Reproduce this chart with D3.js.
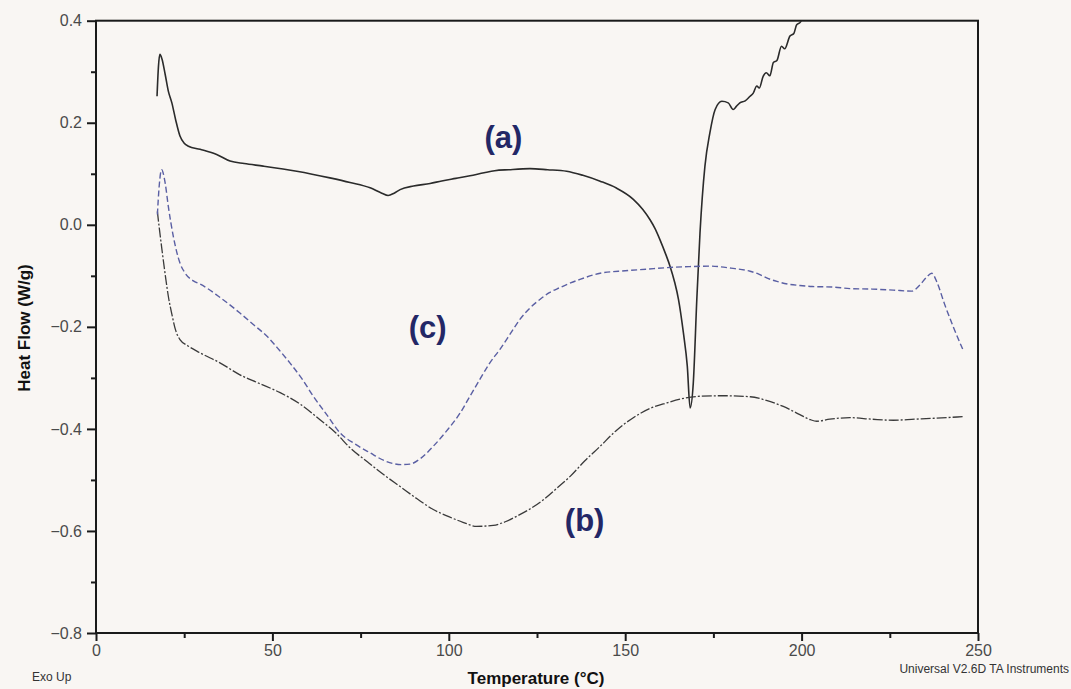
<!DOCTYPE html>
<html>
<head>
<meta charset="utf-8">
<script src="https://cdn.jsdelivr.net/npm/d3@7/dist/d3.min.js"></script>
<style>
  html, body { margin: 0; padding: 0; background: #f9f6f3; }
  svg { display: block; font-family: Arial, "Liberation Sans", sans-serif; }
</style>
</head>
<body>
<svg id="chart" width="1071" height="689"></svg>
<script>
// DSC thermograms: temperature (°C) vs heat flow (W/g)
const tempA = [17.3, 17.7, 18.1, 18.7, 19.6, 20.5, 21.5, 22.6, 23.8, 25.0, 26.2, 29.5, 34.2, 38.0, 42.0, 47.4, 56.9, 66.3, 72.0, 77.7, 81.0, 82.8, 84.5, 86.2, 90.0, 94.7, 98.0, 102.0, 106.0, 110.0, 113.0, 117.0, 123.0, 128.0, 133.4, 138.0, 142.9, 147.5, 152.3, 155.0, 157.0, 158.5, 159.9, 161.5, 162.7, 164.0, 165.1, 166.5, 167.6, 168.4, 169.3, 170.3, 171.2, 172.6, 174.0, 175.5, 177.4, 179.2, 180.6, 181.5, 182.5, 184.0, 185.4, 186.3, 187.3, 188.0, 189.1, 190.0, 191.0, 192.0, 193.0, 194.3, 195.2, 196.7, 197.8, 198.6, 199.5, 200.5, 201.4];
const flowA = [0.252, 0.31, 0.334, 0.325, 0.295, 0.262, 0.239, 0.205, 0.174, 0.160, 0.154, 0.148, 0.138, 0.125, 0.120, 0.115, 0.105, 0.092, 0.083, 0.0725, 0.062, 0.0575, 0.062, 0.069, 0.076, 0.081, 0.086, 0.091, 0.096, 0.102, 0.106, 0.108, 0.110, 0.108, 0.105, 0.097, 0.0855, 0.072, 0.050, 0.030, 0.0104, -0.008, -0.030, -0.058, -0.081, -0.112, -0.146, -0.212, -0.277, -0.359, -0.310, -0.146, -0.016, 0.115, 0.180, 0.226, 0.242, 0.239, 0.226, 0.232, 0.239, 0.243, 0.252, 0.258, 0.272, 0.268, 0.291, 0.298, 0.292, 0.318, 0.322, 0.350, 0.345, 0.370, 0.375, 0.392, 0.396, 0.404, 0.401];

const tempB = [17.4, 18.0, 18.7, 19.8, 20.5, 21.5, 22.5, 23.8, 26.0, 29.5, 35.0, 40.8, 46.0, 52.2, 58.0, 63.5, 68.0, 72.0, 77.0, 82.0, 86.2, 91.0, 95.6, 100.0, 104.0, 107.9, 112.6, 116.0, 119.3, 123.0, 126.8, 130.5, 134.4, 138.5, 142.9, 147.5, 152.3, 157.0, 161.8, 166.0, 171.2, 178.0, 185.4, 190.0, 194.8, 199.5, 202.5, 204.3, 208.0, 213.7, 220.0, 226.0, 232.0, 238.0, 245.8];
const flowB = [0.026, -0.01, -0.049, -0.107, -0.140, -0.175, -0.205, -0.225, -0.237, -0.251, -0.270, -0.294, -0.310, -0.329, -0.352, -0.382, -0.408, -0.437, -0.465, -0.492, -0.513, -0.537, -0.558, -0.572, -0.583, -0.591, -0.589, -0.582, -0.571, -0.557, -0.539, -0.517, -0.493, -0.463, -0.434, -0.403, -0.378, -0.360, -0.349, -0.341, -0.336, -0.335, -0.337, -0.344, -0.356, -0.372, -0.382, -0.385, -0.381, -0.378, -0.381, -0.383, -0.381, -0.379, -0.376];

const tempC = [17.4, 17.9, 18.6, 19.6, 20.5, 21.9, 23.8, 25.2, 27.6, 29.5, 34.7, 40.8, 44.5, 48.4, 52.0, 55.0, 58.5, 61.6, 65.5, 69.2, 73.5, 77.7, 82.0, 86.5, 89.0, 92.0, 95.6, 99.5, 103.2, 106.0, 108.8, 111.5, 114.5, 117.5, 120.2, 123.0, 125.9, 128.5, 131.5, 134.5, 137.2, 142.9, 150.0, 156.0, 161.8, 168.0, 174.0, 180.0, 185.4, 188.0, 190.1, 193.0, 196.0, 199.5, 203.0, 208.7, 213.7, 220.0, 226.0, 231.2, 233.5, 235.5, 236.9, 238.5, 240.5, 243.0, 245.8];
const flowC = [0.02, 0.075, 0.108, 0.082, 0.036, -0.022, -0.075, -0.094, -0.110, -0.116, -0.140, -0.173, -0.195, -0.218, -0.246, -0.271, -0.303, -0.336, -0.373, -0.408, -0.430, -0.447, -0.463, -0.470, -0.469, -0.458, -0.434, -0.403, -0.369, -0.336, -0.303, -0.272, -0.244, -0.213, -0.185, -0.163, -0.146, -0.133, -0.123, -0.114, -0.107, -0.095, -0.090, -0.087, -0.084, -0.082, -0.081, -0.085, -0.091, -0.097, -0.104, -0.111, -0.116, -0.119, -0.121, -0.122, -0.125, -0.126, -0.128, -0.130, -0.118, -0.102, -0.095, -0.115, -0.155, -0.200, -0.246];

const xMajor = [0, 50, 100, 150, 200, 250];
const xMinor = [25, 75, 125, 175, 225];
const yMajor = [-0.8, -0.6, -0.4, -0.2, 0.0, 0.2, 0.4];
const yMinor = [-0.7, -0.5, -0.3, -0.1, 0.1, 0.3];

const curveLabels = ["(a)", "(b)", "(c)"];
const labelTemp = [115.5, 138.5, 94];
const labelFlow = [0.150, -0.600, -0.222];

const svg = d3.select("#chart");
const plotLeft = 96, plotRight = 978, plotTop = 20.7, plotBottom = 633;

const x = d3.scaleLinear().domain([0, 250]).range([plotLeft, plotRight]);
const y = d3.scaleLinear().domain([-0.8, 0.4]).range([plotBottom, plotTop]);

const fmtY = v => d3.format(".1f")(v);

// clip region for the traces
svg.append("defs").append("clipPath").attr("id", "plotClip")
  .append("rect").attr("x", plotLeft).attr("y", plotTop)
  .attr("width", plotRight - plotLeft).attr("height", plotBottom - plotTop);

// axes with major and minor ticks
const axisStyle = g => {
  g.select(".domain").remove();
  g.selectAll(".tick line").attr("stroke", "#1a1a1a").attr("stroke-width", 2);
  g.selectAll(".tick text").attr("fill", "#4a4a4a").attr("font-size", 16);
};

svg.append("g").attr("transform", `translate(${plotLeft},0)`)
  .call(d3.axisLeft(y).tickValues(yMajor).tickFormat(fmtY).tickSize(9).tickPadding(5))
  .call(axisStyle);
svg.append("g").attr("transform", `translate(${plotLeft},0)`)
  .call(d3.axisLeft(y).tickValues(yMinor).tickFormat("").tickSize(5))
  .call(axisStyle);
svg.append("g").attr("transform", `translate(0,${plotBottom})`)
  .call(d3.axisBottom(x).tickValues(xMajor).tickFormat(d3.format("d")).tickSize(8).tickPadding(4))
  .call(axisStyle);
svg.append("g").attr("transform", `translate(0,${plotBottom})`)
  .call(d3.axisBottom(x).tickValues(xMinor).tickFormat("").tickSize(5))
  .call(axisStyle);

// plot frame
svg.append("rect")
  .attr("x", plotLeft).attr("y", plotTop)
  .attr("width", plotRight - plotLeft).attr("height", plotBottom - plotTop)
  .attr("fill", "none").attr("stroke", "#1a1a1a").attr("stroke-width", 2);

// traces
const line = d3.line().x(d => x(d[0])).y(d => y(d[1])).curve(d3.curveMonotoneX);
const traces = [
  { t: tempA, f: flowA, color: "#2b2b2b", width: 1.6, dash: null },
  { t: tempB, f: flowB, color: "#3a3a3a", width: 1.3, dash: "10,2,2,2" },
  { t: tempC, f: flowC, color: "#5a5fa3", width: 1.4, dash: "6,3" }
];
const plot = svg.append("g").attr("clip-path", "url(#plotClip)");
traces.forEach(tr => {
  plot.append("path")
    .datum(tr.t.map((t, i) => [t, tr.f[i]]))
    .attr("fill", "none")
    .attr("stroke", tr.color)
    .attr("stroke-width", tr.width)
    .attr("stroke-linejoin", "round")
    .attr("stroke-dasharray", tr.dash)
    .attr("d", line);
});

// curve labels
svg.selectAll("text.curve-label")
  .data(curveLabels)
  .join("text")
  .attr("class", "curve-label")
  .attr("x", (d, i) => x(labelTemp[i]))
  .attr("y", (d, i) => y(labelFlow[i]))
  .attr("text-anchor", "middle")
  .attr("font-size", 31)
  .attr("font-weight", "bold")
  .attr("fill", "#232766")
  .text(d => d);

// axis titles
svg.append("text")
  .attr("transform", "translate(30,328) rotate(-90)")
  .attr("text-anchor", "middle")
  .attr("font-size", 17)
  .attr("font-weight", "bold")
  .attr("fill", "#111")
  .text("Heat Flow (W/g)");

svg.append("text")
  .attr("x", 536).attr("y", 684)
  .attr("text-anchor", "middle")
  .attr("font-size", 17)
  .attr("font-weight", "bold")
  .attr("fill", "#111")
  .text("Temperature (°C)");

svg.append("text")
  .attr("x", 32).attr("y", 681)
  .attr("font-size", 12)
  .attr("fill", "#333")
  .text("Exo Up");

svg.append("text")
  .attr("x", 1069).attr("y", 673)
  .attr("text-anchor", "end")
  .attr("font-size", 12)
  .attr("fill", "#333")
  .text("Universal V2.6D TA Instruments");
</script>
</body>
</html>
